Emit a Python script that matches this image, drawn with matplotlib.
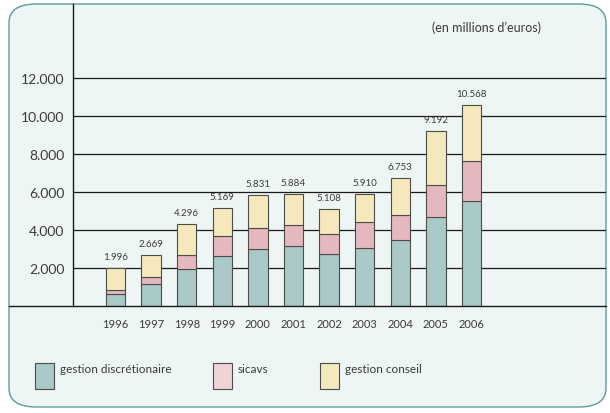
import matplotlib.pyplot as plt
from matplotlib.patches import FancyBboxPatch, Rectangle
from matplotlib.lines import Line2D
import numpy as np

plt.rcParams['font.family'] = ['Lato', 'DejaVu Sans']

years = ["1996", "1997", "1998", "1999", "2000", "2001", "2002", "2003", "2004", "2005", "2006"]
discretionaire = [650, 1175, 1965, 2650, 3020, 3160, 2755, 3035, 3490, 4700, 5530]
sicavs = [175, 335, 735, 1050, 1085, 1120, 1055, 1405, 1320, 1690, 2120]
totals = [1996, 2669, 4296, 5169, 5831, 5884, 5108, 5910, 6753, 9192, 10568]
conseil = [t - d - s for t, d, s in zip(totals, discretionaire, sicavs)]
total_labels = ["1.996", "2.669", "4.296", "5.169", "5.831", "5.884", "5.108", "5.910", "6.753", "9.192", "10.568"]
yticks = [2000, 4000, 6000, 8000, 10000, 12000]
ytick_labels = ["2.000", "4.000", "6.000", "8.000", "10.000", "12.000"]
series_names = ["gestion discrétionaire", "sicavs", "gestion conseil"]

c_teal = '#a9c8c8'
c_pink = '#e5b8bf'
c_yellow = '#f5e8bc'
bg = '#eef5f5'
edge = '#4d4d45'
txt = '#3a3a3a'

W, H = 610, 414
fig = plt.figure(figsize=(6.1, 4.14), dpi=100)
fig.patch.set_facecolor('white')

# rounded frame
box = FancyBboxPatch((9 / W, 6 / H), 597 / W, 403 / H,
                     boxstyle="round,pad=0,rounding_size=0.045",
                     transform=fig.transFigure, facecolor=bg,
                     edgecolor='#5a9e9e', linewidth=1.0, zorder=-5)
fig.patches.append(box)

ax = fig.add_axes([73 / W, 107 / H, 533 / W, 302 / H])
ax.set_facecolor('none')

x = np.arange(len(years))
w = 0.54
ax.bar(x, discretionaire, w, color=c_teal, edgecolor=edge, linewidth=0.8, zorder=3)
ax.bar(x, sicavs, w, bottom=discretionaire, color=c_pink, edgecolor=edge, linewidth=0.8, zorder=3)
bottom2 = [d + s for d, s in zip(discretionaire, sicavs)]
ax.bar(x, conseil, w, bottom=bottom2, color=c_yellow, edgecolor=edge, linewidth=0.8, zorder=3)

for xi, t, lab in zip(x, totals, total_labels):
    ax.annotate(lab, (xi, t), xytext=(0, 5), textcoords='offset points',
                ha='center', va='bottom', fontsize=7, color=txt)

for yv in yticks:
    ax.axhline(yv, color='#1a1a1a', linewidth=0.9, zorder=1)

ax.set_xlim(-1.194, -1.194 + 533 / 35.6)
ax.set_ylim(0, 15900)
ax.set_yticks(yticks)
ax.set_yticklabels(ytick_labels, fontsize=10, color=txt)
ax.set_xticks(x)
ax.set_xticklabels(years, fontsize=8, color=txt)
ax.tick_params(axis='y', length=0, pad=6)
ax.tick_params(axis='x', length=0, pad=9)
for s in ['top', 'right', 'bottom']:
    ax.spines[s].set_visible(False)
ax.spines['left'].set_color('#1a1a1a')
ax.spines['left'].set_linewidth(1.0)

# baseline across the whole frame
fig.lines.append(Line2D([9 / W, 606 / W], [107 / H, 107 / H], transform=fig.transFigure,
                        color='#1a1a1a', linewidth=1.0))

fig.text(486 / W, 1 - 28 / H, "(en millions d\u2019euros)", ha='center', va='center',
         fontsize=9, color=txt)

# legend
leg_colors = [c_teal, '#f0d3d7', c_yellow]
leg_x = [35, 213, 320]
for lx, col, name in zip(leg_x, leg_colors, series_names):
    fig.patches.append(Rectangle((lx / W, 1 - 390 / H), 19 / W, 26 / H,
                                 transform=fig.transFigure, facecolor=col,
                                 edgecolor=edge, linewidth=0.8))
    fig.text((lx + 25) / W, 1 - 370 / H, name, ha='left', va='center',
             fontsize=8.5, color=txt)

fig.savefig('out.png', dpi=100)
